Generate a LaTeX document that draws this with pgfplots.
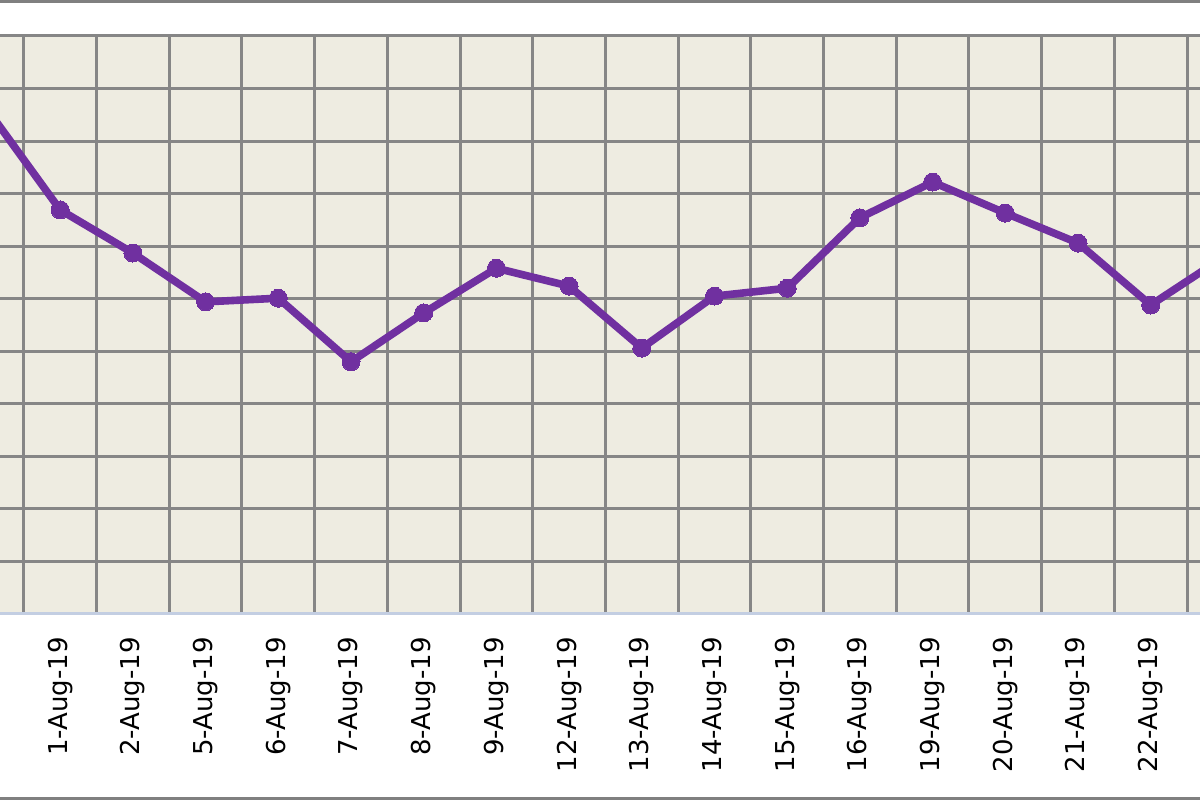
\documentclass[border=0pt]{standalone}
\usepackage{pgfplots}
\pgfplotsset{compat=1.18}
\usepackage{fontspec}
\setmainfont{DejaVu Sans}

\definecolor{plotbg}{HTML}{EEECE1}
\definecolor{gridgray}{HTML}{868686}
\definecolor{linepurple}{HTML}{7030A0}
\definecolor{axisblue}{HTML}{C3CEE2}
\definecolor{datecyan}{HTML}{00B0F0}
\definecolor{framegray}{HTML}{808080}

\begin{document}
\begin{tikzpicture}
\path[use as bounding box] (0,0) rectangle (600bp,400bp);
\clip (0,0) rectangle (600bp,400bp);
\begin{axis}[
  at={(-24.425bp,93bp)}, anchor=south west,
  scale only axis, width=654.3bp, height=289bp,
  xmin=-0.5, xmax=17.5, ymin=0, ymax=11,
  axis background/.style={fill=plotbg},
  xtick={0,...,17},
  xticklabels={{\color{datecyan}31-Jul-19},1-Aug-19,2-Aug-19,5-Aug-19,6-Aug-19,
    7-Aug-19,8-Aug-19,9-Aug-19,12-Aug-19,13-Aug-19,14-Aug-19,15-Aug-19,
    16-Aug-19,19-Aug-19,20-Aug-19,21-Aug-19,22-Aug-19,23-Aug-19},
  minor xtick={-0.5,0.5,...,17.5},
  xminorgrids, ymajorgrids,
  ytick={0,...,11}, yticklabels={},
  major tick length=0pt, minor tick length=0pt,
  grid style={gridgray, line width=1.5bp},
  minor grid style={gridgray, line width=1.5bp},
  axis x line*=bottom, axis y line*=left,
  x axis line style={axisblue, line width=1.5bp},
  y axis line style={draw=none},
  xticklabel shift=11.5bp,
  xticklabel style={rotate=90, anchor=east, inner sep=0pt,
    font=\fontsize{13bp}{15bp}\selectfont},
]
\addplot[linepurple, line width=3.8bp, mark=*, mark size=4.5bp,
  mark options={fill=linepurple, draw=linepurple, line width=0pt}]
  coordinates {
  (0,9.60) (1,7.69) (2,6.87) (3,5.94) (4,6.01) (5,4.80) (6,5.73)
  (7,6.58) (8,6.24) (9,5.06) (10,6.05) (11,6.20) (12,7.54) (13,8.22)
  (14,7.63) (15,7.06) (16,5.88) (17,6.79)};
\end{axis}
\draw[framegray, line width=1.5bp] (0,399.25bp) -- (600bp,399.25bp);
\draw[framegray, line width=1.5bp] (0,0.75bp) -- (600bp,0.75bp);
\end{tikzpicture}
\end{document}
